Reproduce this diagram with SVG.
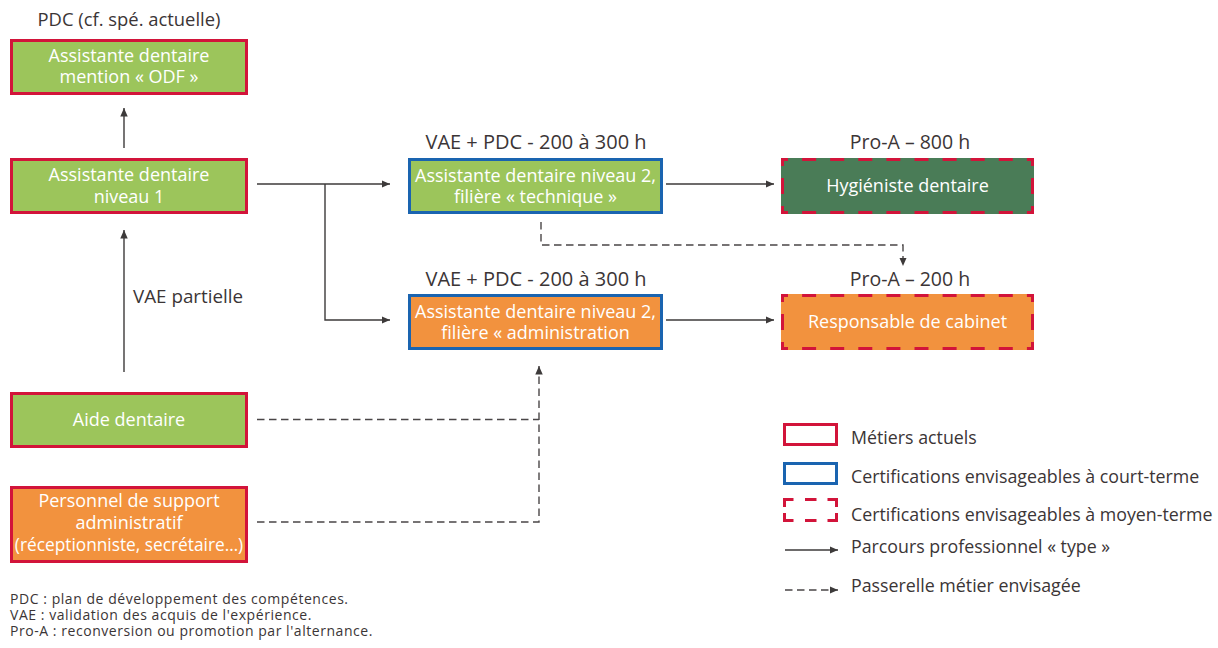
<svg xmlns="http://www.w3.org/2000/svg" width="1218" height="648" viewBox="0 0 1218 648">
  <style>
    text { font-family: "Open Sans", "Noto Sans", "Liberation Sans", sans-serif; }
    .box-text { fill: #ffffff; font-size: 18px; text-anchor: middle; }
    .label { fill: #3b3536; font-size: 20px; text-anchor: middle; }
    .legend-text { fill: #3b3536; font-size: 17.8px; }
    .note { fill: #3b3536; font-size: 14px; letter-spacing: 0.55px; }
    .green { fill: #9cc55b; }
    .orange { fill: #f2923e; }
    .dark-green { fill: #4a7c57; }
    .current { stroke: #d2143a; stroke-width: 3; }
    .short-term { stroke: #1a64b0; stroke-width: 3; }
    .mid-h { fill: none; stroke: #d2143a; stroke-width: 3; stroke-dasharray: 14 14.1; stroke-dashoffset: 7; }
    .mid-v { fill: none; stroke: #d2143a; stroke-width: 3; stroke-dasharray: 16 12; stroke-dashoffset: 8; }
    .mid-legend { fill: none; stroke: #d2143a; stroke-width: 3; }
    .path { fill: none; stroke: #3d3a3a; stroke-width: 1.4; }
    .bridge { fill: none; stroke: #4a4647; stroke-width: 1.4; stroke-dasharray: 7.5 4.5; }
  </style>
  <defs>
    <marker id="arrow" markerUnits="userSpaceOnUse" markerWidth="9" markerHeight="8" refX="8.5" refY="3.75" orient="auto">
      <path d="M0,0 L8.5,3.75 L0,7.5 z" fill="#3d3a3a"/>
    </marker>
  </defs>

  <!-- Current jobs (solid red border) -->
  <g id="node-odf">
    <text class="label" x="129" y="26" style="font-size:18.4px">PDC (cf. spé. actuelle)</text>
    <rect class="green current" x="11.5" y="40.5" width="235" height="53"/>
    <text class="box-text" x="129" y="62">Assistante dentaire</text>
    <text class="box-text" x="129" y="83">mention « ODF »</text>
  </g>
  <g id="node-niveau1">
    <rect class="green current" x="11.5" y="159.5" width="235" height="53"/>
    <text class="box-text" x="129" y="181">Assistante dentaire</text>
    <text class="box-text" x="129" y="203">niveau 1</text>
  </g>
  <g id="node-aide">
    <rect class="green current" x="11.5" y="393.5" width="235" height="53"/>
    <text class="box-text" x="129" y="426">Aide dentaire</text>
  </g>
  <g id="node-support">
    <rect class="orange current" x="11.5" y="487.5" width="235" height="74"/>
    <text class="box-text" x="129" y="507">Personnel de support</text>
    <text class="box-text" x="129" y="529">administratif</text>
    <text class="box-text" x="129" y="551" style="font-size:17.3px">(réceptionniste, secrétaire…)</text>
  </g>

  <!-- Short-term certifications (blue border) -->
  <g id="node-technique">
    <text class="label" x="536" y="149">VAE + PDC - 200 à 300 h</text>
    <rect class="green short-term" x="409.5" y="159.5" width="252" height="53"/>
    <text class="box-text" x="535.5" y="181.5">Assistante dentaire niveau 2,</text>
    <text class="box-text" x="535.5" y="203">filière « technique »</text>
  </g>
  <g id="node-administration">
    <text class="label" x="536" y="285.5">VAE + PDC - 200 à 300 h</text>
    <rect class="orange short-term" x="409.5" y="295.5" width="252" height="53"/>
    <text class="box-text" x="535.5" y="317.5">Assistante dentaire niveau 2,</text>
    <text class="box-text" x="535.5" y="339">filière « administration</text>
  </g>

  <!-- Mid-term certifications (dashed red border) -->
  <g id="node-hygieniste">
    <text class="label" x="910" y="149" style="font-size:19.5px">Pro-A – 800 h</text>
    <rect class="dark-green" x="781" y="158" width="253" height="56"/>
    <path class="mid-h" d="M781,159.5 H1034 M781,212.5 H1034"/>
    <path class="mid-v" d="M782.5,158 V214 M1032.5,158 V214"/>
    <text class="box-text" x="907.5" y="192">Hygiéniste dentaire</text>
  </g>
  <g id="node-responsable">
    <text class="label" x="910" y="285.5" style="font-size:19.5px">Pro-A – 200 h</text>
    <rect class="orange" x="781" y="294" width="253" height="56"/>
    <path class="mid-h" d="M781,295.5 H1034 M781,348.5 H1034"/>
    <path class="mid-v" d="M782.5,294 V350 M1032.5,294 V350"/>
    <text class="box-text" x="907.5" y="328">Responsable de cabinet</text>
  </g>

  <!-- Connectors -->
  <g id="connectors">
    <path class="path" d="M124,148 V108" marker-end="url(#arrow)"/>
    <path class="path" d="M124,372 V230" marker-end="url(#arrow)"/>
    <text class="label" x="133" y="303" style="text-anchor:start;font-size:18.8px">VAE partielle</text>
    <path class="path" d="M257,184 H390" marker-end="url(#arrow)"/>
    <path class="path" d="M325,184 V320 H390" marker-end="url(#arrow)"/>
    <path class="path" d="M666,184 H774" marker-end="url(#arrow)"/>
    <path class="path" d="M666,320 H774" marker-end="url(#arrow)"/>
    <path class="bridge" d="M541,222 V245 H903 V266" marker-end="url(#arrow)"/>
    <path class="bridge" d="M257,419.5 H539"/>
    <path class="bridge" d="M257,522 H539 V366" marker-end="url(#arrow)"/>
  </g>

  <!-- Legend -->
  <g id="legend">
    <rect class="current" fill="none" x="784.5" y="424.5" width="52" height="20"/>
    <text class="legend-text" x="851" y="444">Métiers actuels</text>
    <rect class="short-term" fill="none" x="784.5" y="463.5" width="52" height="20"/>
    <text class="legend-text" x="851" y="483">Certifications envisageables à court-terme</text>
    <path class="mid-legend" d="M784.5,507 V499.5 H793.5 M805,499.5 H816.5 M827.5,499.5 H836.5 V507 M784.5,513 V520.5 H793.5 M805,520.5 H816.5 M827.5,520.5 H836.5 V513"/>
    <text class="legend-text" x="851" y="521">Certifications envisageables à moyen-terme</text>
    <path class="path" d="M785,550 H838" marker-end="url(#arrow)"/>
    <text class="legend-text" x="851" y="553">Parcours professionnel « type »</text>
    <path class="bridge" d="M785,590 H838" marker-end="url(#arrow)"/>
    <text class="legend-text" x="851" y="592">Passerelle métier envisagée</text>
  </g>

  <!-- Abbreviations -->
  <g id="notes">
    <text class="note" x="10" y="604">PDC : plan de développement des compétences.</text>
    <text class="note" x="10" y="620">VAE : validation des acquis de l'expérience.</text>
    <text class="note" x="10" y="636">Pro-A : reconversion ou promotion par l'alternance.</text>
  </g>
</svg>
